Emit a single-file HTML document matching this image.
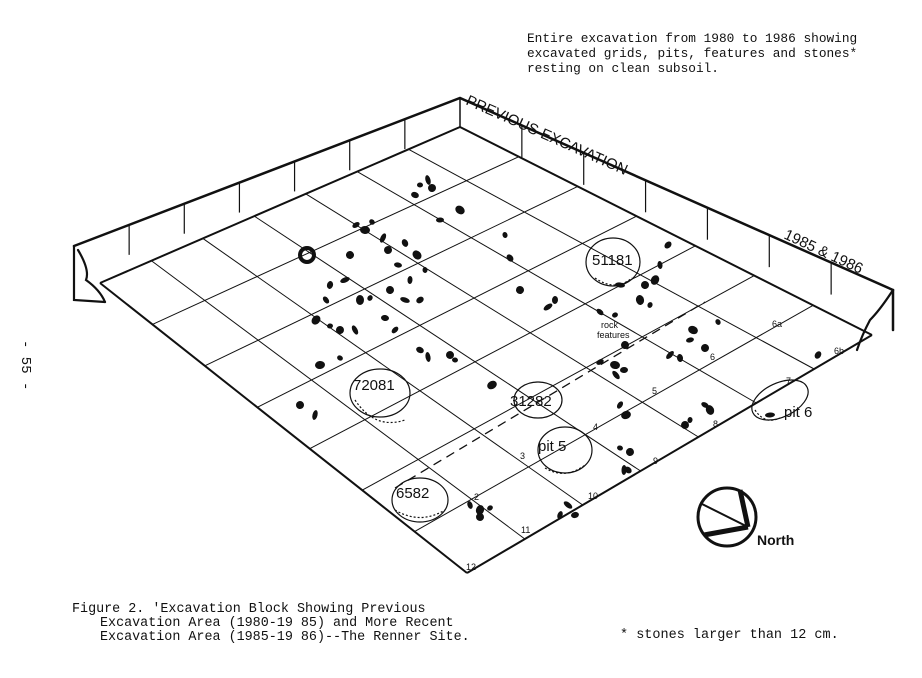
<!DOCTYPE html>
<html><head><meta charset="utf-8"><style>
body{margin:0;background:#fff;width:922px;height:678px;overflow:hidden}
svg{display:block}
.m{font-family:"Liberation Mono",monospace;fill:#111}
.s{font-family:"Liberation Sans",sans-serif;fill:#111}
</style></head><body>
<svg id="g" width="922" height="678" viewBox="0 0 922 678" xmlns="http://www.w3.org/2000/svg">
<g stroke="#111" fill="none" stroke-linecap="round">
<polyline points="74,246 460,98 893,290" stroke-width="2.5"/>
<polyline points="74,246 74,300 105,302" stroke-width="2.2"/>
<path d="M78,250 Q90,270 86,280 Q100,290 105,302" stroke-width="2.2"/>
<polyline points="893,290 893,330" stroke-width="2.5"/>
<path d="M893,290 Q880,310 870,320 Q862,335 857,350" stroke-width="2.2"/>
<line x1="460" y1="98" x2="460" y2="127" stroke-width="1.5"/>
</g>
<g id="grid" stroke="#111" fill="none"></g>
<line x1="395" y1="488" x2="705" y2="302" stroke="#111" stroke-width="1.3" stroke-dasharray="9 6"/>
<g id="dots" fill="#111"></g>
<g stroke="#111" fill="none" stroke-width="1.2">
<ellipse cx="380" cy="393" rx="30" ry="24"/>
<path d="M355,400 Q375,430 405,420" stroke-dasharray="2 2"/>
<ellipse cx="538" cy="400" rx="24" ry="18"/>
<ellipse cx="565" cy="450" rx="27" ry="23"/>
<path d="M545,468 Q565,480 585,465" stroke-dasharray="2 2"/>
<ellipse cx="613" cy="262" rx="27" ry="24"/>
<path d="M595,278 Q615,292 632,278" stroke-dasharray="2 2"/>
<ellipse cx="420" cy="500" rx="28" ry="22"/>
<path d="M395,510 Q420,525 445,510" stroke-dasharray="2 2"/>
<ellipse cx="780" cy="400" rx="30" ry="17" transform="rotate(-25 780 400)"/>
<path d="M755,410 Q765,425 780,418" stroke-dasharray="2 2"/>
<circle cx="727" cy="517" r="29" stroke-width="3"/>
<line x1="700" y1="503" x2="748" y2="527" stroke-width="2"/>
<line x1="740" y1="490" x2="748" y2="527" stroke-width="5"/>
<line x1="704" y1="535" x2="748" y2="527" stroke-width="5"/>
</g>
<g class="s" font-size="15">
<text x="353" y="390">72081</text>
<text x="510" y="406">31282</text>
<text x="538" y="451">pit 5</text>
<text x="592" y="265">51181</text>
<text x="396" y="498">6582</text>
<text x="784" y="417">pit 6</text>
<text x="757" y="545" font-weight="bold" font-size="14">North</text>
</g>
<g class="s" font-size="9">
<text x="601" y="328">rock</text><text x="597" y="338">features</text>
<text x="474" y="500">2</text><text x="520" y="459">3</text><text x="593" y="430">4</text>
<text x="652" y="394">5</text><text x="710" y="360">6</text><text x="772" y="327">6a</text>
<text x="834" y="354">6b</text><text x="786" y="384">7</text><text x="713" y="427">8</text>
<text x="653" y="464">9</text><text x="588" y="499">10</text><text x="521" y="533">11</text>
<text x="466" y="570">12</text>
</g>
<text class="s" font-size="15" transform="translate(465,104) rotate(24)">PREVIOUS  EXCAVATION</text>
<text class="s" font-size="15" transform="translate(783,238) rotate(25)">1985 &amp; 1986</text>
<g class="m" font-size="12.8">
<text x="527" y="42">Entire excavation from 1980 to 1986 showing</text>
<text x="527" y="57">excavated grids, pits, features and stones*</text>
<text x="527" y="72">resting on clean subsoil.</text>
</g>
<g class="m" font-size="13.4">
<text x="72" y="612">Figure 2. 'Excavation Block Showing Previous</text>
<text x="100" y="626">Excavation Area (1980-19 85) and More Recent</text>
<text x="100" y="640">Excavation Area (1985-19 86)--The Renner Site.</text>
</g>
<text class="m" font-size="13.5" x="620" y="638">* stones larger than 12 cm.</text>
<text class="m" font-size="14" transform="translate(22,340) rotate(90)">- 55 -</text>
</svg>
<script>
var L=[100,283],B=[460,127],R=[872,335],F=[467,573];
function P(u,v){var x=L[0]+u*(B[0]-L[0])+v*(F[0]-L[0])+u*v*(R[0]-B[0]-F[0]+L[0]);
var y=L[1]+u*(B[1]-L[1])+v*(F[1]-L[1])+u*v*(R[1]-B[1]-F[1]+L[1]);return [x,y];}
var g=document.getElementById('grid'),s='',NU=7,NV=7;
for(var i=0;i<=NU;i++){var a=P(i/NU,0),b=P(i/NU,1);s+='<line x1="'+a[0]+'" y1="'+a[1]+'" x2="'+b[0]+'" y2="'+b[1]+'" stroke-width="'+(i==0||i==NU?2:1)+'"/>';}
for(var j=0;j<=NV;j++){var a=P(0,j/NV),b=P(1,j/NV);s+='<line x1="'+a[0]+'" y1="'+a[1]+'" x2="'+b[0]+'" y2="'+b[1]+'" stroke-width="'+(j==0||j==NV?2:1)+'"/>';}
for(var i=1;i<NU;i++){var x=74+(460-74)*i/NU,y=246+(98-246)*i/NU;s+='<line x1="'+x+'" y1="'+y+'" x2="'+x+'" y2="'+(y+30)+'" stroke-width="1.2"/>';}
for(var j=1;j<NV;j++){var x=460+(893-460)*j/NV,y=98+(290-98)*j/NV;s+='<line x1="'+x+'" y1="'+y+'" x2="'+x+'" y2="'+(y+32)+'" stroke-width="1.2"/>';}
g.innerHTML=s;
var d=[[420,185],[432,188],[428,180],[415,195],[356,225],[365,230],[372,222],[388,250],[383,238],[405,243],[398,265],[417,255],[425,270],[350,255],[345,280],[330,285],[326,300],[360,300],[370,298],[390,290],[405,300],[420,300],[410,280],[316,320],[330,326],[340,330],[355,330],[385,318],[395,330],[320,365],[340,358],[300,405],[315,415],[510,258],[440,220],[460,210],[505,235],[520,290],[548,307],[555,300],[600,312],[640,300],[650,305],[645,285],[620,285],[668,245],[660,265],[655,280],[615,315],[625,345],[616,375],[624,370],[620,405],[626,415],[620,448],[630,452],[624,470],[628,470],[690,340],[693,330],[718,322],[705,348],[670,355],[680,358],[705,405],[710,410],[690,420],[685,425],[770,415],[818,355],[470,505],[480,510],[490,508],[480,517],[568,505],[575,515],[560,515],[492,385],[455,360],[450,355],[428,357],[420,350],[600,362],[615,365]];
var h='';d.forEach(function(p,k){h+='<ellipse cx="'+p[0]+'" cy="'+p[1]+'" rx="'+(3+k%3)+'" ry="'+(2.5+k%2*1.5)+'" transform="rotate('+(k*37%180)+' '+p[0]+' '+p[1]+')"/>';});
h+='<circle cx="307" cy="255" r="7" fill="none" stroke="#111" stroke-width="4"/>';
document.getElementById('dots').innerHTML=h;
</script>
</body></html>
